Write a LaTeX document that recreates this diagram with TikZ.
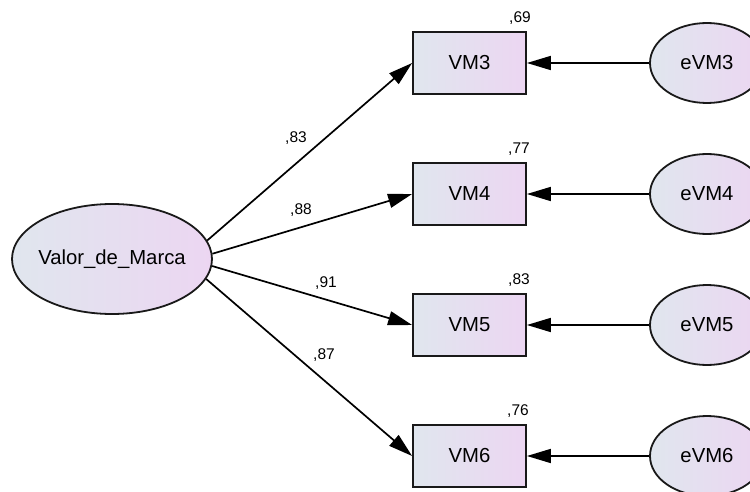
\documentclass[tikz,border=0pt]{standalone}
\usepackage{fontspec}
\setmainfont{Liberation Sans}
\usetikzlibrary{arrows.meta,shapes.geometric}
\definecolor{shadeA}{RGB}{224,230,238}
\definecolor{shadeB}{RGB}{236,214,242}
\definecolor{edgeline}{RGB}{25,25,25}
\begin{document}
\begin{tikzpicture}[x=1pt,y=-1pt,
  nodefont/.style={font=\fontsize{20.3}{23}\selectfont},
  latent/.style={ellipse, draw=edgeline, line width=1.8pt, left color=shadeA, right color=shadeB, nodefont, inner sep=0pt},
  observed/.style={rectangle, draw=edgeline, line width=1.8pt, left color=shadeA, right color=shadeB, nodefont, inner sep=0pt, minimum width=113pt, minimum height=62pt},
  errvar/.style={latent, minimum width=114pt, minimum height=80pt},
  path/.style={-{Triangle[length=24pt,width=14pt]}, line width=1.7pt, draw=black},
  est/.style={font=\fontsize{15.5}{17}\selectfont, inner sep=0pt}]
\useasboundingbox (0,0) rectangle (750,492);
\clip (0,0) rectangle (750,492);

% latent factor
\node[latent, inner xsep=-4pt, minimum width=200pt, minimum height=110pt] (vdm) at (112,259) {Valor\_de\_Marca};

% indicators
\node[observed] (vm3) at (469.5,63)  {VM3};
\node[observed] (vm4) at (469.5,194) {VM4};
\node[observed] (vm5) at (469.5,325) {VM5};
\node[observed] (vm6) at (469.5,456) {VM6};

% error terms
\node[errvar] (e3) at (707,63)  {eVM3};
\node[errvar] (e4) at (707,194) {eVM4};
\node[errvar] (e5) at (707,325) {eVM5};
\node[errvar] (e6) at (707,456) {eVM6};

% loadings
\draw[path] (vdm.11) -- (vm3.west);
\draw[path] (vdm.3)  -- (vm4.west);
\draw[path] (vdm.-4) -- (vm5.west);
\draw[path] (vdm.-12) -- (vm6.west);

% error paths
\draw[path] (e3) -- (vm3);
\draw[path] (e4) -- (vm4);
\draw[path] (e5) -- (vm5);
\draw[path] (e6) -- (vm6);

% standardized estimates
\node[est] (l3) at (296,138) {,83};
\node[est] (l4) at (301,210) {,88};
\node[est] (l5) at (326,283) {,91};
\node[est] (l6) at (324,355) {,87};

% squared multiple correlations
\node[est] (r3) at (520,18)  {,69};
\node[est] (r4) at (519,149) {,77};
\node[est] (r5) at (519,280) {,83};
\node[est] (r6) at (518,411) {,76};
\end{tikzpicture}
\end{document}
